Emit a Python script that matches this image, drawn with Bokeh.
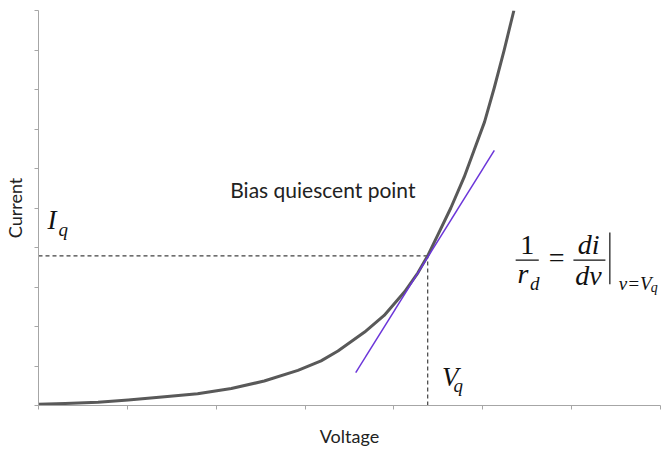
import math
from bokeh.plotting import figure
from bokeh.models import Range1d, FixedTicker, Label
from bokeh.embed import file_html
from bokeh.resources import INLINE

# ---- data ----
volt = [0.00, 0.30, 0.67, 1.01, 1.42, 1.79, 2.17, 2.54, 2.92, 3.18, 3.37, 3.52,
        3.67, 3.89, 4.12, 4.27, 4.38, 4.49, 4.64, 4.79, 4.90, 5.02, 5.13,
        5.24, 5.35]
curr = [0.03, 0.05, 0.08, 0.14, 0.22, 0.30, 0.43, 0.62, 0.89, 1.13, 1.38, 1.62,
        1.86, 2.28, 2.88, 3.36, 3.79, 4.30, 5.00, 5.78, 6.45, 7.18, 8.05,
        8.99, 10.0]
vq = 4.38
iq = 3.79
tangent_v = [3.57, 5.13]
tangent_i = [0.83, 6.46]
x_ticks = [0, 1, 2, 3, 4, 5, 6, 7]
y_ticks = [0, 1, 2, 3, 4, 5, 6, 7, 8, 9, 10]

p = figure(width=662, height=449, output_backend="svg", toolbar_location=None,
           x_range=Range1d(0, 7), y_range=Range1d(0, 10),
           min_border_left=37, min_border_right=2, min_border_top=10,
           min_border_bottom=42)
p.outline_line_color = None
p.grid.visible = False
p.background_fill_color = "white"
p.border_fill_color = "white"

for ax, ticks in ((p.xaxis, x_ticks), (p.yaxis, y_ticks)):
    ax.ticker = FixedTicker(ticks=ticks)
    ax.major_label_text_font_size = "1px"
    ax.major_label_text_color = None
    ax.major_label_standoff = 0
    ax.minor_tick_line_color = None
    ax.major_tick_in = 0
    ax.major_tick_out = 4
    ax.axis_line_color = "#A6A6A6"
    ax.major_tick_line_color = "#A6A6A6"
    ax.axis_label_text_font = "Lato"
    ax.axis_label_text_font_style = "normal"
    ax.axis_label_text_font_size = "18px"
    ax.axis_label_text_color = "#222222"

p.xaxis.axis_label = "Voltage"
p.xaxis.axis_label_standoff = 15
p.yaxis.axis_label = "Current"
p.yaxis.axis_label_standoff = 9

# dashed guides to the bias point
p.line([0, vq], [iq, iq], line_color="#404040", line_width=1.2, line_dash="4 3")
p.line([vq, vq], [0, iq], line_color="#404040", line_width=1.2, line_dash="4 3")

# I-V curve
p.line(volt, curr, line_color="#595959", line_width=3, line_join="round")
# tangent at the bias point
p.line(tangent_v, tangent_i, line_color="#6B35D9", line_width=1.5)

def lab(x, y, t, size, italic=True, align="left", baseline="alphabetic",
        font="Liberation Serif", color="#111111"):
    p.add_layout(Label(x=x, y=y, text=t, text_font=font,
                       text_font_size=size,
                       text_font_style="italic" if italic else "normal",
                       text_align=align, text_baseline=baseline,
                       text_color=color))

lab(3.20, 5.48, "Bias quiescent point", "21px", italic=False, align="center",
    baseline="middle", font="Lato", color="#222222")

# I_q
lab(0.10, 4.685, "I", "27px")
lab(0.225, 4.45, "q", "19px")
# V_q
lab(4.54, 0.73, "V", "27px")
lab(4.67, 0.50, "q", "19px")

# 1/r_d = di/dv | v=Vq
lab(5.50, 4.07, "1", "28px", italic=False, align="center")
lab(5.39, 3.34, "r", "28px")
lab(5.53, 3.09, "d", "19px")
lab(5.83, 3.74, "=", "28px", italic=False, align="center")
lab(6.19, 4.07, "di", "28px", align="center")
lab(6.19, 3.29, "dv", "28px", align="center")
lab(6.53, 3.09, "v=V", "19px")
lab(6.89, 2.98, "q", "14px")

# fraction bars and evaluation bar
p.segment(x0=[5.37, 6.02], y0=[3.68, 3.68], x1=[5.63, 6.38], y1=[3.68, 3.68],
          line_color="#111111", line_width=1.2)
p.segment(x0=[6.43], y0=[4.38], x1=[6.43], y1=[3.07],
          line_color="#111111", line_width=1.2)

open("out.html", "w").write(file_html(p, INLINE))
